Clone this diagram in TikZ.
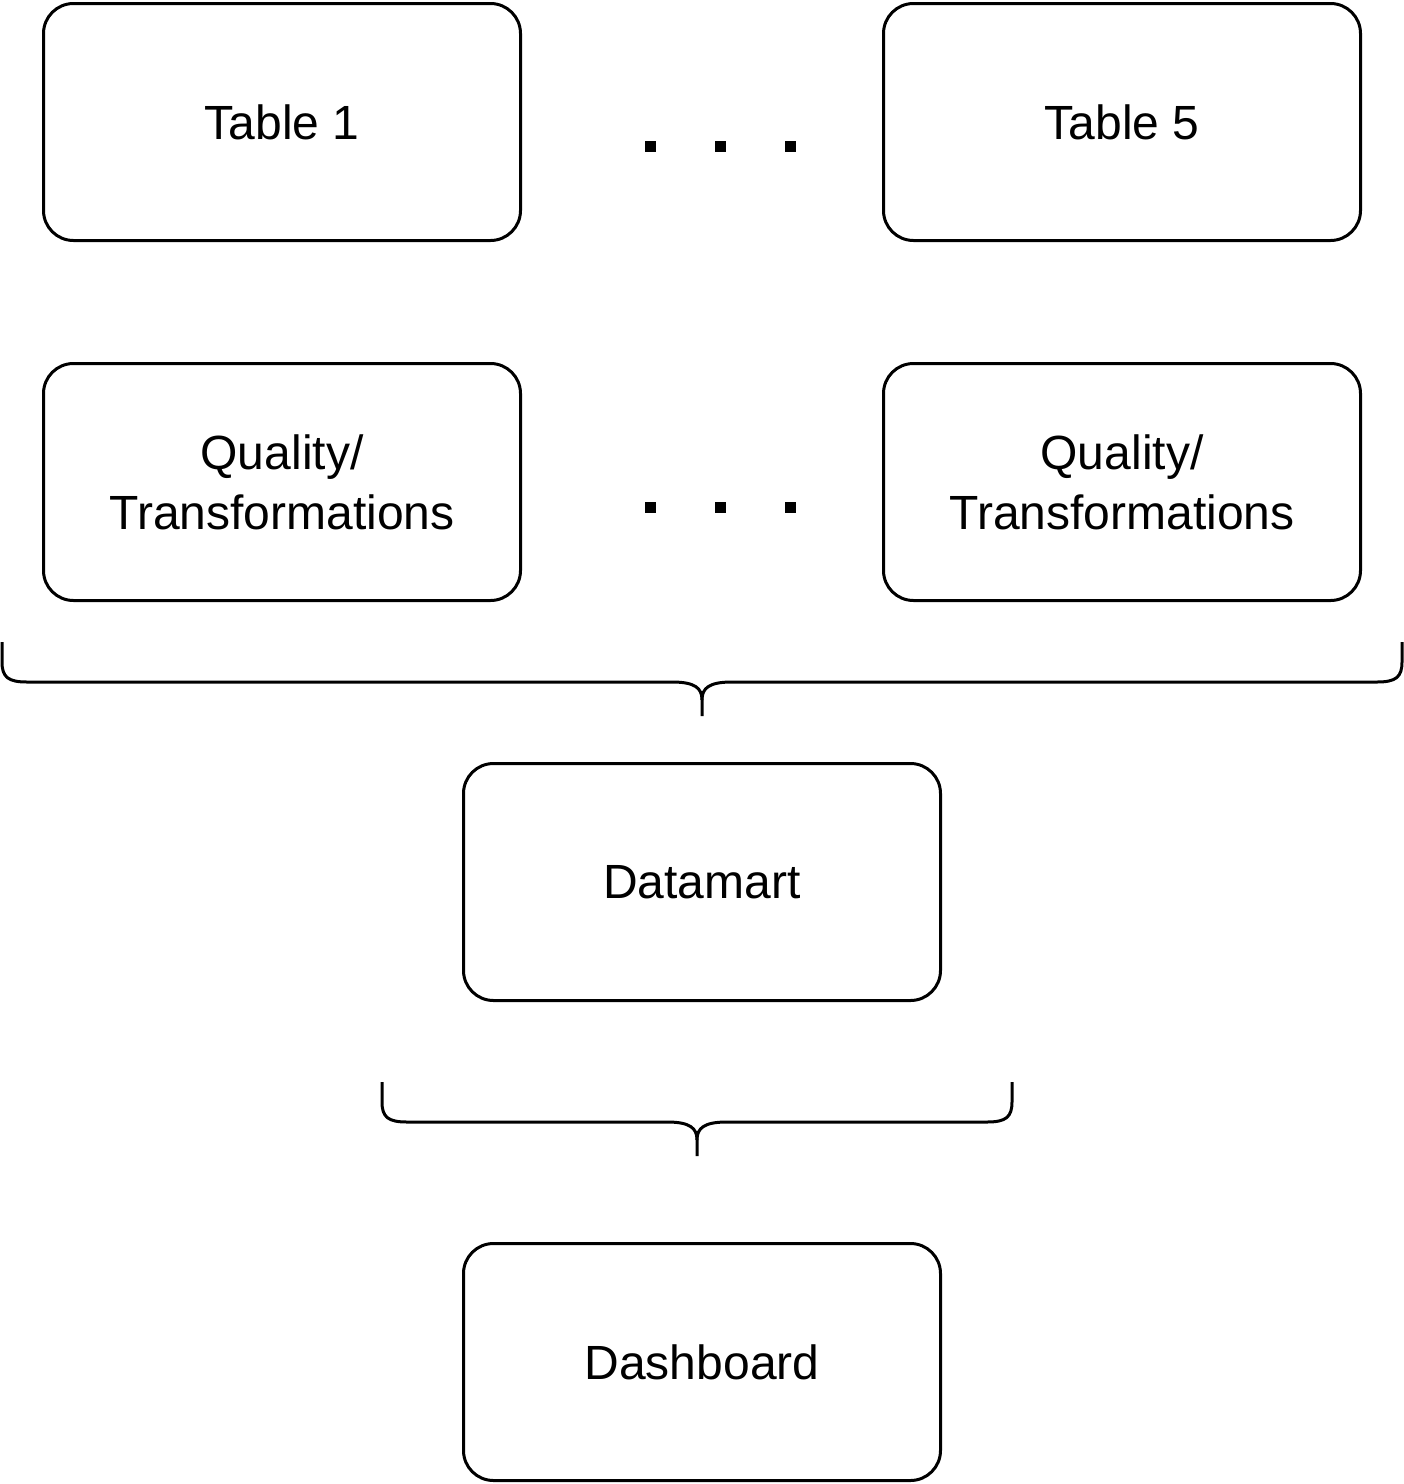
\documentclass[tikz,border=0pt]{standalone}
\usepackage{fontspec}
\setmainfont{Liberation Sans}
\begin{document}
\begin{tikzpicture}[x=1pt,y=-1pt,
  box/.style={draw,line width=3pt,rounded corners=30pt,minimum width=477pt,minimum height=237pt,align=center,font=\fontsize{48}{60}\selectfont,inner sep=0pt},
  dot/.style={fill,inner sep=0pt,minimum size=11pt},
  brace/.style={line width=3pt}]
\useasboundingbox (0,0) rectangle (1404,1484);
\node[box] (t1) at (282,122) {Table 1};
\node[box] (t5) at (1122,122) {Table 5};
\node[box] (q1) at (282,482) {Quality/\\Transformations};
\node[box] (q5) at (1122,482) {Quality/\\Transformations};
\node[box] (dm) at (702,882) {Datamart};
\node[box] (db) at (702,1362) {Dashboard};
\foreach \x/\n in {650/a,720/b,790/c}{
  \node[dot] (d1\n) at (\x,146) {};
  \node[dot] (d2\n) at (\x,507) {};
}
\coordinate (b1s) at (2,642);
\coordinate (b1e) at (1402,642);
\coordinate (b1t) at (702,716);
\draw[brace] (b1s) -- (2,662) .. controls (2,677) and (8,682) .. (27,682) -- (672,682)
  .. controls (695,682) and (702,688) .. (702,700) -- (b1t);
\draw[brace] (b1e) -- (1402,662) .. controls (1402,677) and (1396,682) .. (1377,682) -- (732,682)
  .. controls (709,682) and (702,688) .. (702,700);
\coordinate (b2s) at (382,1082);
\coordinate (b2e) at (1012,1082);
\coordinate (b2t) at (697,1156);
\draw[brace] (b2s) -- (382,1102) .. controls (382,1117) and (388,1122) .. (407,1122) -- (667,1122)
  .. controls (690,1122) and (697,1128) .. (697,1140) -- (b2t);
\draw[brace] (b2e) -- (1012,1102) .. controls (1012,1117) and (1006,1122) .. (987,1122) -- (727,1122)
  .. controls (704,1122) and (697,1128) .. (697,1140);
\end{tikzpicture}
\end{document}
